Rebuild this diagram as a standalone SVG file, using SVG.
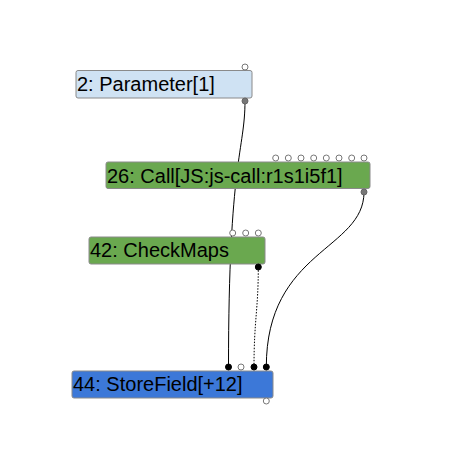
<svg xmlns="http://www.w3.org/2000/svg" width="475" height="468" viewBox="0 0 475 468">
<style>
.box{stroke:#8a8a8a;stroke-width:1}
.lbl{font-family:"Liberation Sans",Arial,sans-serif;font-size:20px;fill:#000}
.in{fill:#fff;stroke:#777;stroke-width:1}
.outg{fill:#777;stroke:#666;stroke-width:1}
.outb{fill:#000;stroke:#000;stroke-width:1}
.e{fill:none;stroke:#000;stroke-width:1}
.dot{stroke-dasharray:1.5 1.5}
</style>
<rect width="475" height="468" fill="#fff"/>
<g id="connectors">
<path class="e" d="M245,101 C245,150 228.5,160 228.5,367"/>
<path class="e dot" d="M258.3,267 C258.3,310 254,320 254,367"/>
<path class="e" d="M364,192 C364,250 266.3,250 266.3,367"/>
</g>
<g id="n2">
<rect class="box" x="76" y="70.5" width="176" height="27.5" rx="2" fill="#cfe2f3"/>
<text class="lbl" x="77" y="91">2: Parameter[1]</text>
<circle class="in" cx="245" cy="67" r="3"/>
<circle class="outg" cx="245" cy="101" r="3"/>
</g>
<g id="n26">
<rect class="box" x="106" y="162" width="264" height="26.5" rx="2" fill="#6aa84f"/>
<text class="lbl" x="107" y="183">26: Call[JS:js-call:r1s1i5f1]</text>
<circle class="in" cx="275.7" cy="158" r="3"/>
<circle class="in" cx="288.3" cy="158" r="3"/>
<circle class="in" cx="301" cy="158" r="3"/>
<circle class="in" cx="313.7" cy="158" r="3"/>
<circle class="in" cx="326.3" cy="158" r="3"/>
<circle class="in" cx="339" cy="158" r="3"/>
<circle class="in" cx="351.7" cy="158" r="3"/>
<circle class="in" cx="364" cy="158" r="3"/>
<circle class="outg" cx="364" cy="192" r="3"/>
</g>
<g id="n42">
<rect class="box" x="89" y="237" width="176" height="27" rx="2" fill="#6aa84f"/>
<text class="lbl" x="90" y="257">42: CheckMaps</text>
<circle class="in" cx="232.7" cy="233" r="3"/>
<circle class="in" cx="245.7" cy="233" r="3"/>
<circle class="in" cx="258.3" cy="233" r="3"/>
<circle class="outb" cx="258.3" cy="267" r="3"/>
</g>
<g id="n44">
<rect class="box" x="72" y="371" width="201" height="27" rx="2" fill="#3c78d8"/>
<text class="lbl" x="73" y="391">44: StoreField[+12]</text>
<circle class="outb" cx="228.5" cy="367" r="3"/>
<circle class="in" cx="241" cy="367" r="3"/>
<circle class="outb" cx="254" cy="367" r="3"/>
<circle class="outb" cx="266.3" cy="367" r="3"/>
<circle class="in" cx="266.3" cy="401" r="3"/>
</g>
</svg>
